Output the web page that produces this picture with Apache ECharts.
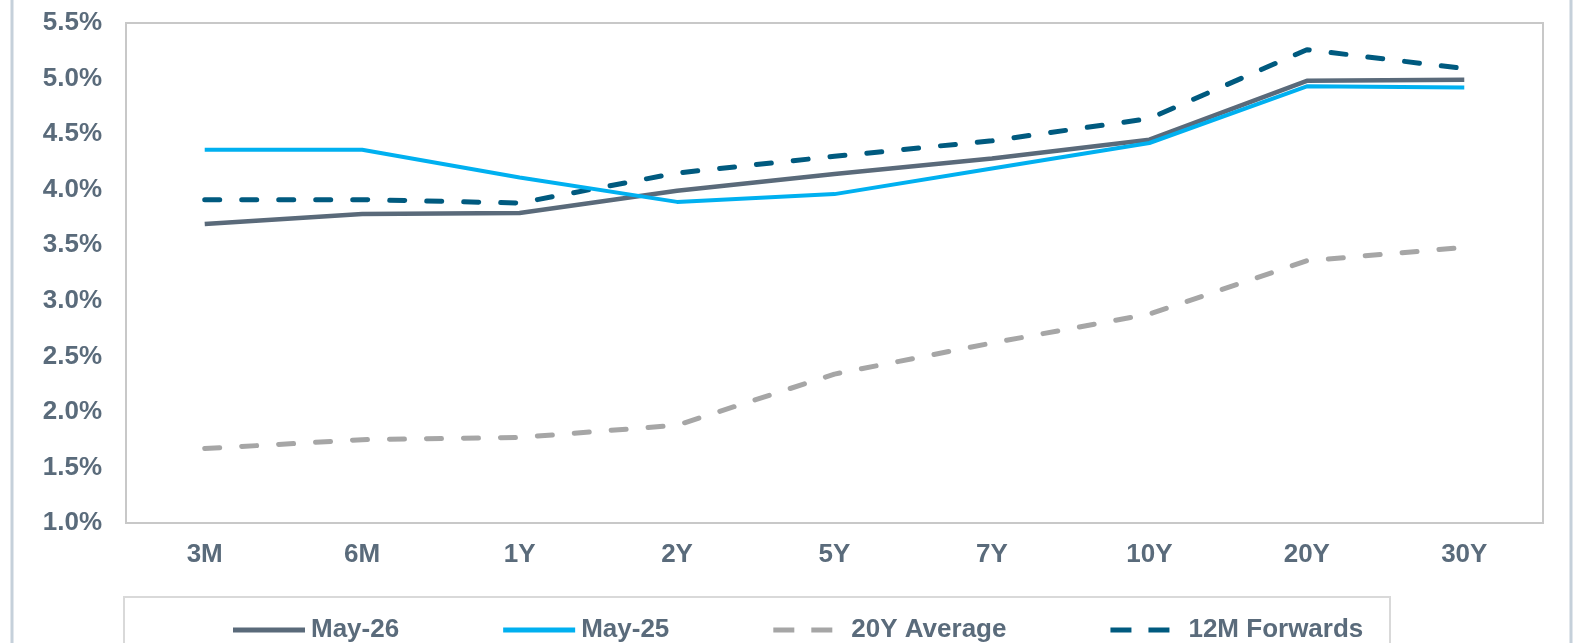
<!DOCTYPE html>
<html>
<head>
<meta charset="utf-8">
<script src="https://cdn.jsdelivr.net/npm/echarts@6/dist/echarts.min.js"></script>
<style>
  html, body { margin: 0; padding: 0; background: #fff; }
  #chart { width: 1582px; height: 643px; }
</style>
</head>
<body>
<div id="chart"></div>
<script>
// 期限
var tenors = ['3M', '6M', '1Y', '2Y', '5Y', '7Y', '10Y', '20Y', '30Y'];
// 收益率 (%)
var may26 = [3.69, 3.78, 3.79, 3.99, 4.14, 4.28, 4.45, 4.98, 4.99];
var may25 = [4.36, 4.36, 4.11, 3.89, 3.96, 4.19, 4.42, 4.93, 4.92];
var avg20y = [1.67, 1.75, 1.77, 1.88, 2.34, 2.62, 2.88, 3.36, 3.48];
var fwd12m = [3.91, 3.91, 3.88, 4.15, 4.30, 4.44, 4.64, 5.26, 5.09];
var names = ['May-26', 'May-25', '20Y Average', '12M Forwards'];

var textColor = '#5a6b7b';
var font = '"Liberation Sans", Arial, sans-serif';
// 图例图标：实线 / 两段虚线
var solidIcon = 'path://M0,0h72v5h-72z';
var dashIcon = 'path://M0,0h21v5h-21z M38,0h21v5h-21z M72,5';

var myChart = echarts.init(document.getElementById('chart'));
var option = {
    backgroundColor: '#fff',
    animation: false,
    grid: {
        left: 126,
        top: 23,
        right: 39,
        bottom: 120,
        show: true,
        borderColor: '#c8c8c8',
        borderWidth: 2
    },
    legend: {
        left: 228,
        top: 612,
        itemWidth: 72,
        itemHeight: 5,
        itemGap: 104,
        data: [
            { name: names[0], icon: solidIcon },
            { name: names[1], icon: solidIcon },
            { name: names[2], icon: dashIcon },
            { name: names[3], icon: dashIcon }
        ],
        textStyle: { color: textColor, fontSize: 26, fontWeight: 'bold', fontFamily: font, padding: [0, 0, 0, 1] }
    },
    graphic: [
        {
            type: 'rect',
            shape: { x: 124, y: 597, width: 1266, height: 60 },
            style: { fill: 'none', stroke: '#d9d9d9', lineWidth: 2 }
        },
        {
            type: 'line',
            shape: { x1: 12, y1: 0, x2: 12, y2: 643 },
            style: { stroke: '#c5d0da', lineWidth: 3 }
        },
        {
            type: 'line',
            shape: { x1: 1571, y1: 0, x2: 1571, y2: 643 },
            style: { stroke: '#c5d0da', lineWidth: 3 }
        }
    ],
    xAxis: {
        type: 'category',
        data: tenors,
        axisTick: { show: false },
        axisLine: { show: false },
        axisLabel: {
            margin: 19,
            color: textColor,
            fontSize: 26,
            fontWeight: 'bold',
            fontFamily: font
        }
    },
    yAxis: {
        type: 'value',
        min: 1,
        max: 5.5,
        interval: 0.5,
        splitLine: { show: false },
        axisLine: { show: false },
        axisTick: { show: false },
        axisLabel: {
            margin: 24,
            color: textColor,
            fontSize: 26,
            fontWeight: 'bold',
            fontFamily: font,
            formatter: function (value) {
                return value.toFixed(1) + '%';
            }
        }
    },
    series: [
        {
            name: 'May-26',
            type: 'line',
            symbol: 'none',
            data: may26,
            z: 3,
            lineStyle: { color: '#5a6a7a', width: 4.5 },
            itemStyle: { color: '#5a6a7a' }
        },
        {
            name: 'May-25',
            type: 'line',
            symbol: 'none',
            data: may25,
            z: 4,
            lineStyle: { color: '#00b0f0', width: 4 },
            itemStyle: { color: '#00b0f0' }
        },
        {
            name: '20Y Average',
            type: 'line',
            symbol: 'none',
            data: avg20y,
            z: 2,
            lineStyle: { color: '#a6a6a6', width: 5, type: [15, 22], cap: 'round' },
            itemStyle: { color: '#a6a6a6' }
        },
        {
            name: '12M Forwards',
            type: 'line',
            symbol: 'none',
            data: fwd12m,
            z: 2,
            lineStyle: { color: '#005a7f', width: 5, type: [15, 22], cap: 'round' },
            itemStyle: { color: '#005a7f' }
        }
    ]
};
myChart.setOption(option);
</script>
</body>
</html>
